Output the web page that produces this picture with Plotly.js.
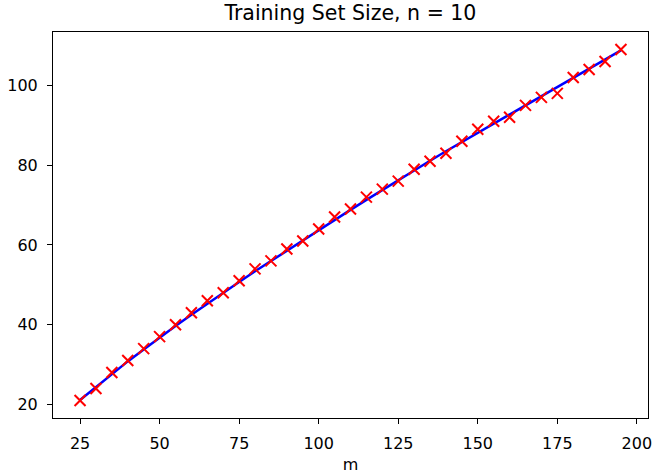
<!DOCTYPE html>
<html>
<head>
<meta charset="utf-8">
<script src="https://cdn.plot.ly/plotly-3.0.1.min.js"></script>
<style>html,body{margin:0;padding:0;background:#fff;}#chart{width:655px;height:475px;}</style>
</head>
<body>
<div id="chart"></div>
<script>
const m = [25,30,35,40,45,50,55,60,65,70,75,80,85,90,95,100,105,110,115,120,125,130,135,140,145,150,155,160,165,170,175,180,185,190,195];
const observed = [21,24,28,31,34,37,40,43,46,48,51,54,56,59,61,64,67,69,72,74,76,79,81,83,86,89,91,92,95,97,98,102,104,106,109];
const fitted = [21.1,24.4,27.7,30.8,33.8,36.8,39.7,42.5,45.3,48.0,50.7,53.4,56.0,58.6,61.2,63.8,66.3,68.8,71.3,73.8,76.2,78.7,81.1,83.5,85.8,88.2,90.6,92.9,95.2,97.5,99.8,102.1,104.4,106.6,108.8];
const xTicks = [25,50,75,100,125,150,175,200];
const yTicks = [20,40,60,80,100];

const font = {family: 'DejaVu Sans', color: '#000'};
const traces = [
  {x: m, y: fitted, type: 'scatter', mode: 'lines', line: {color: '#0000ff', width: 2.5}, hoverinfo: 'skip'},
  {x: m, y: observed, type: 'scatter', mode: 'markers', marker: {symbol: 'x-thin', size: 11, color: '#ff0000', line: {color: '#ff0000', width: 2}}}
];
const axisCommon = {
  showline: true, linecolor: '#000', linewidth: 1, mirror: true,
  ticks: 'outside', ticklen: 5, tickwidth: 1, tickcolor: '#000',
  showgrid: false, zeroline: false,
  tickfont: {family: 'DejaVu Sans', size: 16, color: '#000'}
};
const layout = {
  width: 655, height: 475,
  margin: {l: 53, r: 7, t: 32, b: 57},
  paper_bgcolor: '#fff', plot_bgcolor: '#fff',
  showlegend: false,
  font: font,
  title: {text: 'Training Set Size, n = 10', font: {family: 'DejaVu Sans', size: 20.5, color: '#000'}, x: 0.535, xanchor: 'center', y: 0.972, yanchor: 'middle', yref: 'container'},
  xaxis: Object.assign({}, axisCommon, {range: [16.5, 203.5], tickvals: xTicks, ticktext: xTicks.map(String), ticklabelstandoff: 6,
    title: {text: 'm', font: {family: 'DejaVu Sans', size: 16, color: '#000'}, standoff: 6}}),
  yaxis: Object.assign({}, axisCommon, {range: [16.6, 113.4], tickvals: yTicks, ticktext: yTicks.map(String), ticklabelstandoff: 6})
};
Plotly.newPlot('chart', traces, layout, {displayModeBar: false, staticPlot: true});
</script>
</body>
</html>
